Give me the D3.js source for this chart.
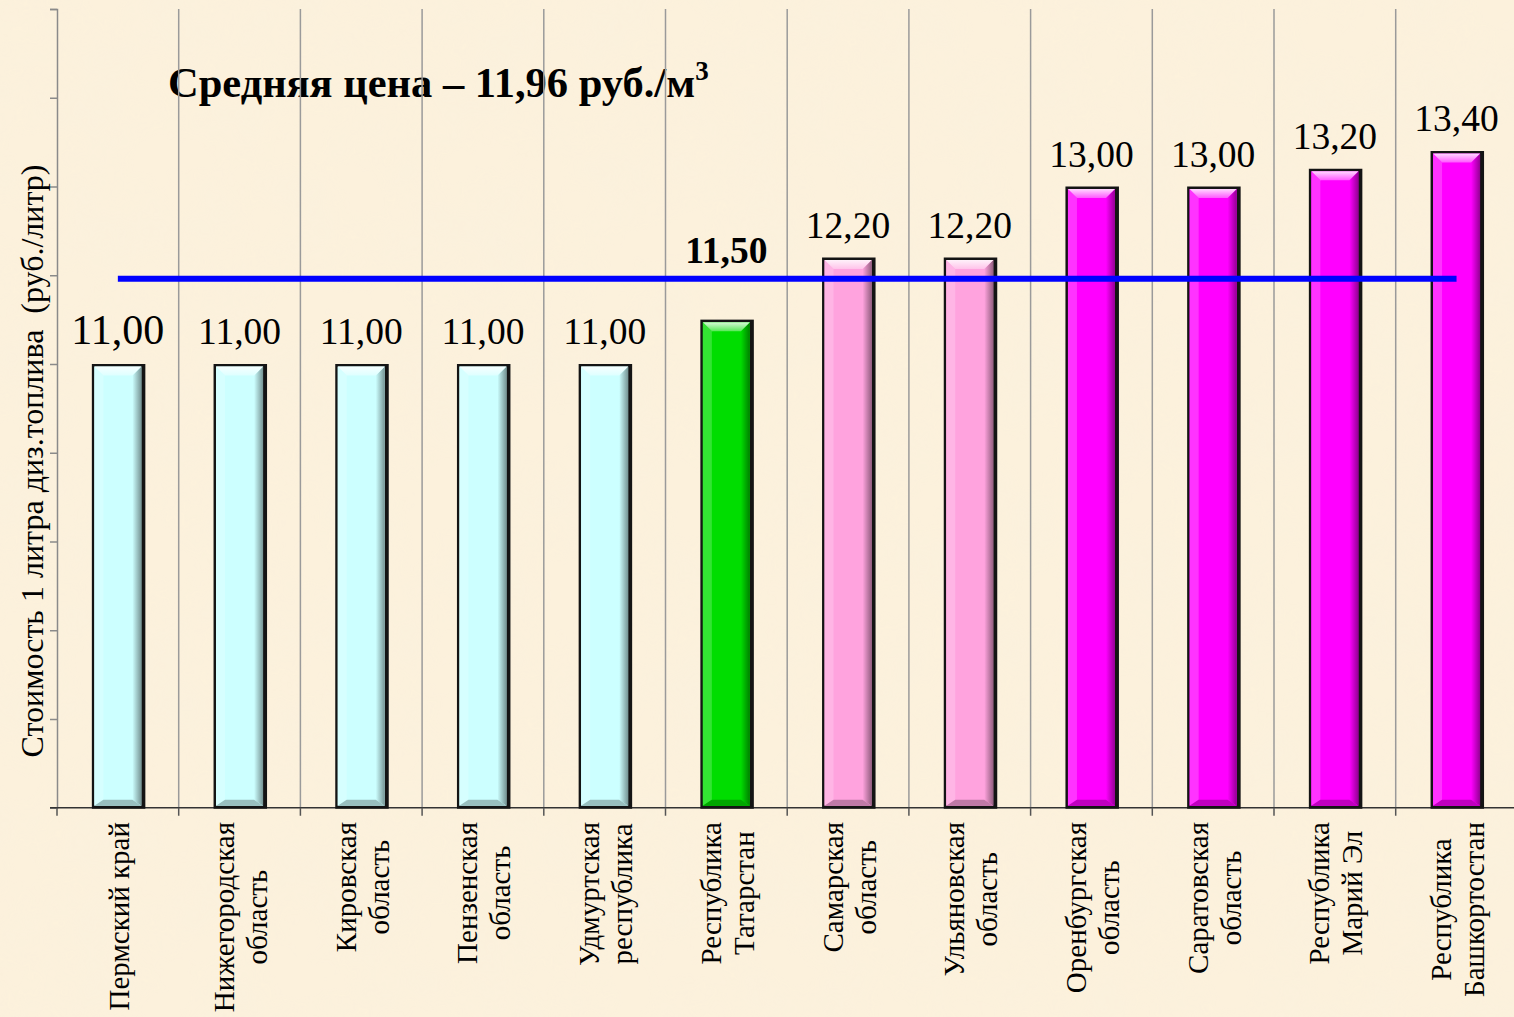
<!DOCTYPE html>
<html>
<head>
<meta charset="utf-8">
<script src="https://cdn.jsdelivr.net/npm/d3@7"></script>
<style>
  html, body { margin: 0; padding: 0; background: #fbefda; }
  svg { display: block; }
</style>
</head>
<body>
<svg id="chart" width="1514" height="1017"></svg>
<script>
// ---- data ----
const categories = [
  "Пермский край",
  "Нижегородская\nобласть",
  "Кировская\nобласть",
  "Пензенская\nобласть",
  "Удмуртская\nреспублика",
  "Республика\nТатарстан",
  "Самарская\nобласть",
  "Ульяновская\nобласть",
  "Оренбургская\nобласть",
  "Саратовская\nобласть",
  "Республика\nМарий Эл",
  "Республика\nБашкортостан"
];
const prices = [11.00, 11.00, 11.00, 11.00, 11.00, 11.50, 12.20, 12.20, 13.00, 13.00, 13.20, 13.40];
const valueLabels = ["11,00", "11,00", "11,00", "11,00", "11,00", "11,50", "12,20", "12,20", "13,00", "13,00", "13,20", "13,40"];
const averagePrice = 11.96;
const highlightCategory = "Республика\nТатарстан";
const yDomain = [6, 15];
const yTicks = [6, 7, 8, 9, 10, 11, 12, 13, 14, 15];
const titleText = "Средняя цена – 11,96 руб./м";
const titleSup = "3";
const yAxisTitle = "Стоимость 1 литра диз.топлива  (руб./литр)";

// ---- styles ----
const colorCyan = "#ccffff", colorGreen = "#00dd00", colorPink = "#ffa3de", colorMagenta = "#ff00ff";
const serif = "'Liberation Serif', 'Times New Roman', serif";

const svg = d3.select("#chart");
const W = 1514, H = 1017;

// background with subtle parchment texture
const defs = svg.append("defs");
const f = defs.append("filter").attr("id", "parch").attr("x", 0).attr("y", 0).attr("width", "100%").attr("height", "100%");
f.append("feTurbulence").attr("type", "fractalNoise").attr("baseFrequency", 0.015).attr("numOctaves", 4).attr("seed", 5).attr("result", "n");
f.append("feColorMatrix").attr("in", "n").attr("type", "matrix")
  .attr("values", "0 0 0 0 0.93  0 0 0 0 0.87  0 0 0 0 0.74  0 0 0 0.9 -0.3")
  .attr("result", "c");
svg.append("rect").attr("width", W).attr("height", H).attr("fill", "#fcf1dc");
svg.append("rect").attr("width", W).attr("height", H).attr("fill", "#fff").attr("filter", "url(#parch)").attr("opacity", 0.45);

const plotLeft = 57, plotRight = 1517.4, plotTop = 9, plotBottom = 807.75;
const x = d3.scaleBand().domain(categories).range([plotLeft, plotRight]).padding(0);
const y = d3.scaleLinear().domain(yDomain).range([plotBottom, plotTop]);
const step = x.step();

const colorFor = (c, v) => c === highlightCategory ? colorGreen : (v < 11.5 ? colorCyan : (v < 12.6 ? colorPink : colorMagenta));

// title (grid drawn over it, as in reference)
const title = svg.append("text")
  .attr("x", 168).attr("y", 97)
  .attr("font-family", serif).attr("font-weight", "bold").attr("font-size", 42.5)
  .attr("fill", "#000");
title.append("tspan").text(titleText);
title.append("tspan").attr("font-size", 27).attr("dy", -17).text(titleSup);

// vertical grid lines at category boundaries
const bounds = d3.range(1, categories.length + 1).map(i => plotLeft + i * step);
svg.append("g").selectAll("line").data(bounds).join("line")
  .attr("x1", d => d).attr("x2", d => d)
  .attr("y1", y(15)).attr("y2", plotBottom)
  .attr("stroke", "#9a9a9a").attr("stroke-width", 1.5);

// y axis
const yAxis = d3.axisLeft(y).tickValues(yTicks).tickSize(7).tickFormat("");
const gy = svg.append("g").attr("transform", `translate(${plotLeft},0)`).call(yAxis);
gy.select(".domain").attr("stroke", "#8a8a8a").attr("stroke-width", 1.5);
gy.selectAll(".tick line").attr("stroke", "#8a8a8a").attr("stroke-width", 1.5);

// x axis
const gx = svg.append("g").attr("transform", `translate(0,${plotBottom})`);
gx.append("line").attr("x1", plotLeft - 7).attr("x2", plotRight).attr("stroke", "#333").attr("stroke-width", 1.5);
gx.selectAll("line.t").data([plotLeft].concat(bounds)).join("line").attr("class", "t")
  .attr("x1", d => d).attr("x2", d => d).attr("y1", 0).attr("y2", 8)
  .attr("stroke", "#555").attr("stroke-width", 1.5);

// gradients per colour
const palette = [colorCyan, colorGreen, colorPink, colorMagenta];
palette.forEach((col, k) => {
  const base = d3.color(col);
  const dark = d3.interpolateRgb(base, "#000");
  const light = d3.interpolateRgb(base, "#fff");
  const gr = defs.append("linearGradient").attr("id", "rg" + k).attr("x1", 0).attr("x2", 1).attr("y1", 0).attr("y2", 0);
  gr.append("stop").attr("offset", 0).attr("stop-color", base.toString());
  gr.append("stop").attr("offset", 1).attr("stop-color", dark(0.42));
  const tg = defs.append("linearGradient").attr("id", "tg" + k).attr("x1", 0).attr("x2", 0).attr("y1", 0).attr("y2", 1);
  tg.append("stop").attr("offset", 0).attr("stop-color", light(0.85));
  tg.append("stop").attr("offset", 1).attr("stop-color", light(0.35));
});

// bars with bevel
const barW = 52, bev = 9;
const bars = svg.append("g");
categories.forEach((c, i) => {
  const v = prices[i];
  const xc = x(c) + step / 2;
  const x0 = xc - barW / 2, x1 = xc + barW / 2;
  const y0 = y(v), y1 = y(yDomain[0]) + 1;
  const col = colorFor(c, v);
  const k = palette.indexOf(col);
  const base = d3.color(col);
  const g = bars.append("g");
  g.append("rect").attr("x", x0).attr("y", y0).attr("width", barW + 1.5).attr("height", y1 - y0)
    .attr("fill", "#141414");
  const ix0 = x0 + 2.5, ix1 = x1 - 2.5, iy0 = y0 + 2.5, iy1 = y1 - 3;
  const b = bev, bb = 6;
  const poly = (pts, fill) => g.append("polygon").attr("points", pts.map(p => p.join(",")).join(" ")).attr("fill", fill);
  const light = d3.interpolateRgb(base, "#ffffff");
  const dark = d3.interpolateRgb(base, "#000000");
  g.append("rect").attr("x", ix0).attr("y", iy0).attr("width", ix1 - ix0).attr("height", iy1 - iy0).attr("fill", base.toString());
  // left bevel
  poly([[ix0, iy0], [ix0 + b, iy0 + b], [ix0 + b, iy1 - bb], [ix0, iy1]], light(0.2));
  // right bevel
  poly([[ix1, iy0], [ix1, iy1], [ix1 - b, iy1 - bb], [ix1 - b, iy0 + b]], `url(#rg${k})`);
  // bottom bevel
  poly([[ix0, iy1], [ix0 + b, iy1 - bb], [ix1 - b, iy1 - bb], [ix1, iy1]], dark(0.25));
  // top bevel
  poly([[ix0, iy0], [ix1, iy0], [ix1 - b, iy0 + b], [ix0 + b, iy0 + b]], `url(#tg${k})`);
});

// average line
const avgLine = d3.line().x(c => x(c) + step / 2).y(() => y(averagePrice));
svg.append("path").datum(categories).attr("d", avgLine)
  .attr("fill", "none").attr("stroke", "#0000ff").attr("stroke-width", 6);

// value labels (label kept clear of the average line)
svg.append("g").selectAll("text").data(categories).join("text")
  .attr("x", (c) => x(c) + step / 2)
  .attr("y", (c, i) => {
    const yl = y(prices[i]) - 20;
    return (yl > y(averagePrice) - 10 && yl < y(averagePrice) + 40) ? y(averagePrice) - 16 : yl;
  })
  .attr("text-anchor", "middle")
  .attr("font-family", serif)
  .attr("font-size", (c, i) => i === 0 ? 42 : 37.5)
  .attr("font-weight", c => c === highlightCategory ? "bold" : "normal")
  .attr("fill", "#000")
  .text((c, i) => valueLabels[i]);

// category labels (rotated)
const fs = 29, lineGap = 33;
const labG = svg.append("g");
categories.forEach(c => {
  const lines = c.split("\n");
  const xc = x(c) + step / 2;
  const g = labG.append("g");
  const texts = lines.map((ln, k) => g.append("text")
    .attr("font-family", serif).attr("font-size", fs).attr("fill", "#000")
    .attr("text-anchor", "middle")
    .attr("y", (k - (lines.length - 1) / 2) * lineGap + 10)
    .text(ln));
  const maxW = d3.max(texts, t => t.node().getComputedTextLength());
  g.attr("transform", `translate(${xc + 1},${822 + maxW / 2}) rotate(-90)`);
});

// y axis title
svg.append("text")
  .attr("transform", "translate(43,461) rotate(-90)")
  .attr("text-anchor", "middle")
  .attr("font-family", serif).attr("font-size", 32).attr("fill", "#000")
  .attr("xml:space", "preserve")
  .text(yAxisTitle);
</script>
</body>
</html>
